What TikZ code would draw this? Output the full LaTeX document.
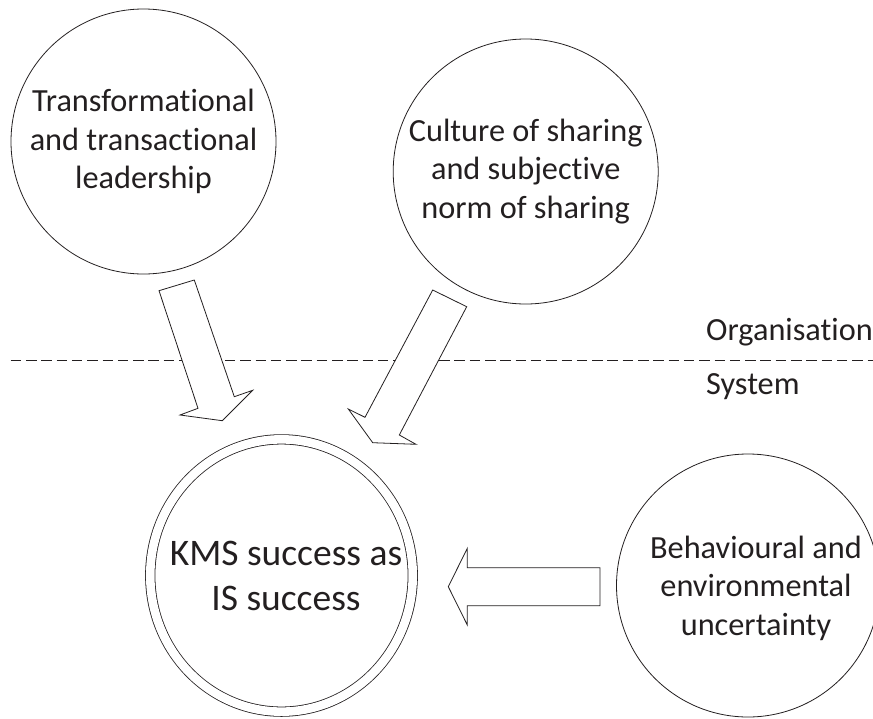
\documentclass[tikz,border=0pt]{standalone}
\usepackage{fontspec}
\setmainfont{Carlito}[RawFeature=-liga, RawFeature=-clig, RawFeature=-dlig, RawFeature=-calt]
\usetikzlibrary{shapes.geometric}
\definecolor{ink}{HTML}{231F20}
\tikzset{
  bubble/.style={circle, draw=ink, line width=0.8pt, inner sep=0pt, align=center,
    text=ink, font=\fontsize{32.3}{38.4}\selectfont},
  kmstext/.style={inner sep=0pt, align=center, text=ink, font=\fontsize{37.5}{45}\selectfont},
  kmsring/.style={draw=ink, line width=0.8pt, double=white, double distance=8.6pt},
  blockarrow/.style={draw=ink, line width=0.8pt, line join=miter, fill=white},
  layerlabel/.style={anchor=base west, inner sep=0pt, text=ink, font=\fontsize{32.3}{38.4}\selectfont},
  layerline/.style={draw=ink, line width=0.8pt, dash pattern=on 10.5pt off 4.8pt}
}
\begin{document}
\begin{tikzpicture}[x=1pt,y=-1pt]
\useasboundingbox (0,0) rectangle (873,718);
% dashed layer separator
\coordinate (dl) at (10.7,360.7);
\coordinate (dr) at (873,360.7);
\draw[layerline] (dl) -- (dr);
\node[layerlabel] (org) at (706,340.7) {Organisation};
\node[layerlabel] (sys) at (706,394) {System};
% circles
\node[bubble, minimum size=265pt] (lead) at (143.5,141.5)
  {Transformational\\and transactional\\leadership};
\node[bubble, minimum size=265pt] (cult) at (525.7,171.5)
  {Culture of sharing\\and subjective\\norm of sharing};
\node[bubble, minimum size=263pt] (beh) at (748,585.5) {};
\node[text=ink, align=center, inner sep=0pt, font=\fontsize{32.3}{38.4}\selectfont] (behtext) at (756,588)
  {Behavioural and\\environmental\\uncertainty};
% central double ellipse
\coordinate (kmsc) at (281.5,575.5);
\draw[kmsring] (kmsc) ellipse [x radius=131.25pt, y radius=136.15pt];
\node[kmstext] (kms) at (286,576) {KMS success as\\IS success};
% block arrows
\draw[blockarrow] (159,290.7) -- (194.3,280) -- (234.3,396.7) -- (252.7,390.3)
  -- (222.3,420.7) -- (180,415) -- (198,408.3) -- cycle;
\draw[blockarrow] (432.7,290) -- (466.7,306.7) -- (399.3,435) -- (416,444.3)
  -- (372.7,442.7) -- (348.3,409) -- (365,417.3) -- cycle;
\draw[blockarrow] (600,567.7) -- (467.3,567.7) -- (467.3,548.3) -- (448.3,586.7)
  -- (467.3,625) -- (467.3,605.7) -- (600,605.7) -- cycle;
\end{tikzpicture}
\end{document}
